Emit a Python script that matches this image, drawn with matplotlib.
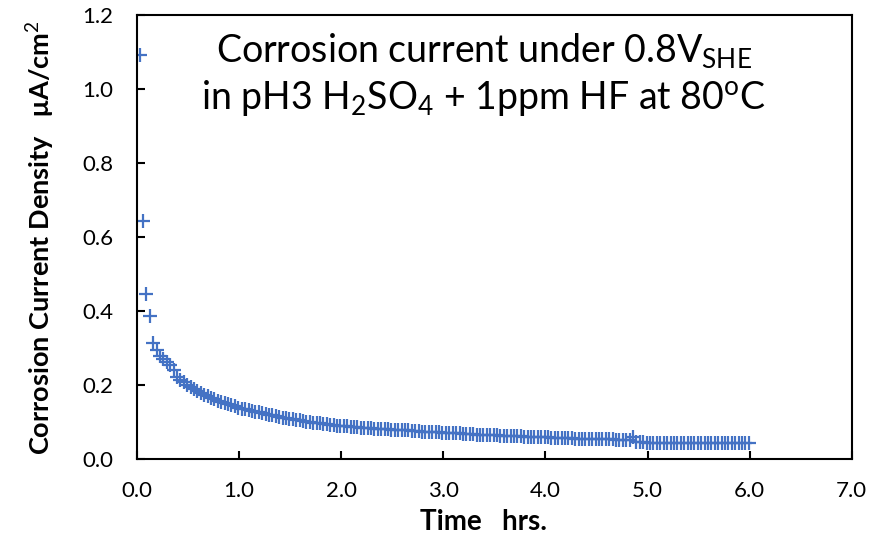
import matplotlib
matplotlib.use("Agg")
import matplotlib.pyplot as plt
import numpy as np

plt.rcParams['font.family'] = ['Lato', 'DejaVu Sans']
plt.rcParams['mathtext.fontset'] = 'custom'
plt.rcParams['mathtext.rm'] = 'Lato'
plt.rcParams['mathtext.it'] = 'Lato:italic'
plt.rcParams['mathtext.bf'] = 'Lato:bold'

# Sampling clock: one point every 2 min
t_start = 0.025
t_step = 1 / 30

# Corrosion current density (uA/cm2), one value per sample
current = [
    1.093, 0.645, 0.446, 0.386, 0.315, 0.295, 0.279, 0.270, 0.262, 0.253,
    0.240, 0.222, 0.214, 0.207, 0.200, 0.194, 0.188, 0.183, 0.178, 0.173,
    0.169, 0.165, 0.161, 0.157, 0.154, 0.151, 0.148, 0.145, 0.142, 0.139,
    0.136, 0.134, 0.132, 0.130, 0.128, 0.126, 0.124, 0.122, 0.120, 0.118,
    0.116, 0.114, 0.112, 0.110, 0.108, 0.107, 0.105, 0.104, 0.102, 0.101,
    0.100, 0.098, 0.097, 0.096, 0.095, 0.094, 0.092, 0.091, 0.090, 0.089,
    0.088, 0.088, 0.087, 0.086, 0.086, 0.085, 0.084, 0.084, 0.083, 0.082,
    0.082, 0.081, 0.080, 0.080, 0.079, 0.079, 0.078, 0.078, 0.077, 0.077,
    0.076, 0.075, 0.075, 0.074, 0.074, 0.073, 0.073, 0.072, 0.072, 0.071,
    0.071, 0.070, 0.070, 0.069, 0.069, 0.068, 0.068, 0.067, 0.067, 0.066,
    0.066, 0.065, 0.065, 0.064, 0.064, 0.064, 0.063, 0.063, 0.062, 0.062,
    0.062, 0.061, 0.061, 0.060, 0.060, 0.060, 0.059, 0.059, 0.058, 0.058,
    0.058, 0.057, 0.057, 0.057, 0.056, 0.056, 0.056, 0.056, 0.055, 0.055,
    0.055, 0.055, 0.054, 0.054, 0.054, 0.054, 0.053, 0.053, 0.053, 0.053,
    0.052, 0.052, 0.052, 0.052, 0.051, 0.059, 0.046, 0.045, 0.045, 0.044,
    0.044, 0.044, 0.043, 0.043, 0.043, 0.043, 0.043, 0.042, 0.042, 0.042,
    0.042, 0.042, 0.042, 0.042, 0.043, 0.043, 0.043, 0.043, 0.043, 0.043,
    0.043, 0.043, 0.044, 0.044, 0.044, 0.044, 0.044, 0.044, 0.044, 0.044,
]
time = t_start + t_step * np.arange(len(current))

x_ticks = [0, 1, 2, 3, 4, 5, 6, 7]
y_ticks = [0.0, 0.2, 0.4, 0.6, 0.8, 1.0, 1.2]

fig = plt.figure(figsize=(8.9, 5.33), dpi=100)
ax = fig.add_axes([0.154, 0.139, 0.803, 0.832])

ax.plot(time, current, linestyle='none', marker='+', markersize=10,
        markeredgewidth=1.6, color='#4472C4')

ax.set_xlim(0, 7)
ax.set_ylim(0, 1.2)
ax.set_xticks(x_ticks)
ax.set_yticks(y_ticks)
ax.set_xticklabels([f"{v:.1f}" for v in x_ticks])
ax.set_yticklabels([f"{v:.1f}" for v in y_ticks])
ax.tick_params(direction='in', length=6, width=1.5, labelsize=16)
ax.tick_params(axis='x', pad=16)
ax.tick_params(axis='y', pad=17)
for s in ax.spines.values():
    s.set_linewidth(1.5)
    s.set_color('black')

ax.set_xlabel('Time   hrs.', fontsize=20, fontweight='bold')
ax.xaxis.set_label_coords(0.485, -0.112)
ax.set_ylabel('Corrosion Current Density   μA/cm$^{2}$', fontsize=19.5,
              fontweight='bold', labelpad=19)

ax.text(0.486, 0.894, r'Corrosion current under 0.8V$_{\mathrm{SHE}}$',
        transform=ax.transAxes, ha='center', va='baseline', fontsize=27)
ax.text(0.485, 0.788, r'in pH3 H$_{2}$SO$_{4}$ + 1ppm HF at 80$^{\mathrm{o}}$C',
        transform=ax.transAxes, ha='center', va='baseline', fontsize=27)

fig.savefig('out.png', dpi=100)
